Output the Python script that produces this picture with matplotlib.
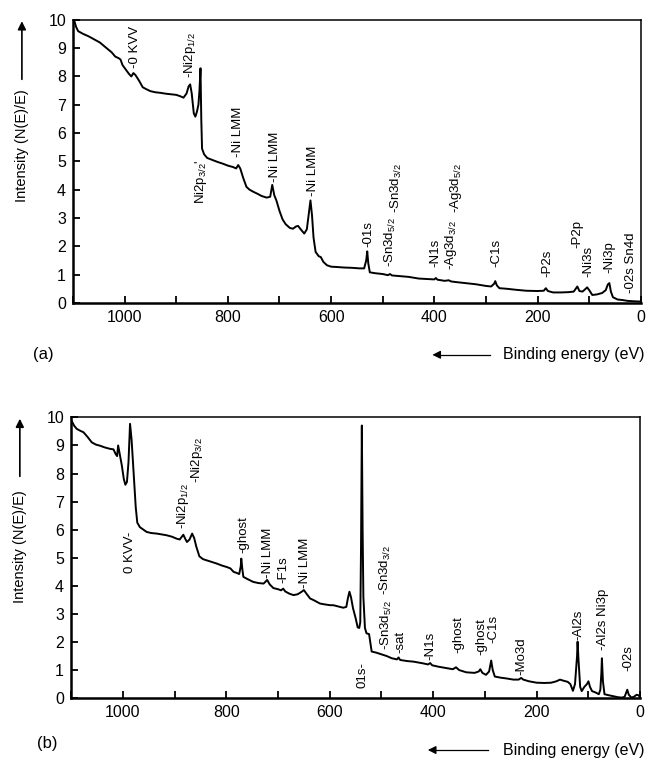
import matplotlib
matplotlib.use("Agg")
import matplotlib.pyplot as plt
from matplotlib.ticker import MultipleLocator

plt.rcParams["font.family"] = ["Liberation Sans", "DejaVu Sans"]
plt.rcParams["mathtext.default"] = "regular"

# --- (a) survey spectrum: binding energy (eV) / intensity
energy_a = [1098, 1094, 1090, 1080, 1070, 1060, 1048, 1035, 1025, 1018, 1012, 1008,
            1004, 998, 992, 987, 983, 979, 972, 965, 958, 950, 940, 930, 920, 910,
            900, 892, 886, 880, 876, 873, 870, 866, 863, 860, 857, 855, 853, 851.5,
            850, 846, 840, 830, 820, 810, 800, 790, 784, 780, 776, 770, 764, 758,
            750, 742, 735, 725, 718, 714, 710, 706, 700, 694, 688, 680, 674, 668,
            664, 658, 652, 647, 643, 640, 637, 634, 630, 628, 624, 620, 615, 608,
            600, 590, 575, 560, 545, 536, 532, 530, 528, 525, 515, 500, 490, 486,
            482, 470, 450, 430, 410, 400, 397, 394, 380, 372, 368, 360, 340, 320,
            300, 290, 284, 282, 279, 274, 260, 240, 222, 200, 188, 184, 180, 170,
            155, 140, 130, 126, 123, 119, 113, 108, 104, 100, 94, 85, 75, 68, 64,
            61, 58, 54, 45, 35, 25, 15, 5, 1]
intens_a = [10.0, 9.75, 9.6, 9.5, 9.42, 9.32, 9.2, 9.0, 8.85, 8.7, 8.65, 8.6,
            8.4, 8.25, 8.1, 8.0, 8.12, 8.05, 7.85, 7.62, 7.55, 7.48, 7.44, 7.42,
            7.39, 7.37, 7.35, 7.3, 7.25, 7.4, 7.65, 7.72, 7.4, 6.7, 6.58, 6.75,
            7.0, 7.5, 8.29, 6.5, 5.45, 5.25, 5.12, 5.05, 4.98, 4.92, 4.85, 4.8,
            4.75, 4.87, 4.75, 4.4, 4.1, 4.0, 3.92, 3.85, 3.78, 3.72, 3.75, 4.17,
            3.8, 3.62, 3.25, 2.95, 2.78, 2.65, 2.62, 2.7, 2.72, 2.58, 2.45, 2.6,
            3.2, 3.62, 3.1, 2.3, 1.8, 1.75, 1.65, 1.62, 1.45, 1.33, 1.28, 1.27,
            1.25, 1.24, 1.22, 1.22, 1.5, 1.82, 1.4, 1.08, 1.05, 1.02, 0.98, 1.02,
            0.97, 0.95, 0.92, 0.86, 0.84, 0.83, 0.88, 0.82, 0.78, 0.8, 0.76, 0.74,
            0.7, 0.66, 0.6, 0.58, 0.68, 0.77, 0.62, 0.52, 0.5, 0.46, 0.43, 0.42,
            0.43, 0.52, 0.42, 0.37, 0.37, 0.38, 0.4, 0.5, 0.58, 0.42, 0.4, 0.48,
            0.55, 0.45, 0.28, 0.3, 0.35, 0.45, 0.65, 0.7, 0.4, 0.2, 0.12, 0.1,
            0.07, 0.06, 0.05, 0.05]

# peak labels for (a): (energy, y anchor, text, anchor side)
labels_a = [
    (979, 8.3, "-0 KVV", "bottom"),
    (873, 7.95, "-Ni2p$_{1/2}$", "bottom"),
    (852, 5.05, "Ni2p$_{3/2}$'", "top"),
    (781, 5.16, "-Ni LMM", "bottom"),
    (708, 4.28, "-Ni LMM", "bottom"),
    (636, 3.76, "-Ni LMM", "bottom"),
    (528, 1.98, "-01s", "bottom"),
    (485, 1.28, "-Sn3d$_{5/2}$", "bottom"),
    (473, 3.17, "-Sn3d$_{3/2}$", "bottom"),
    (398, 1.28, "-N1s", "bottom"),
    (368, 1.17, "-Ag3d$_{3/2}$", "bottom"),
    (359, 3.17, "-Ag3d$_{5/2}$", "bottom"),
    (280, 1.28, "-C1s", "bottom"),
    (182, 0.93, "-P2s", "bottom"),
    (123, 1.94, "-P2p", "bottom"),
    (102, 0.93, "-Ni3s", "bottom"),
    (61, 1.05, "-Ni3p", "bottom"),
    (19, 0.35, "-02s Sn4d", "bottom"),
]

# --- (b) survey spectrum
energy_b = [1099, 1094, 1089, 1082, 1076, 1068, 1060, 1052, 1044, 1035, 1025, 1018,
            1014, 1011, 1009, 1006, 1002, 998, 995, 992, 989, 986, 983, 979, 975,
            972, 967, 960, 954, 945, 934, 925, 915, 905, 896, 890, 886, 883, 880,
            876, 871, 866, 862, 858, 852, 845, 838, 828, 818, 808, 799, 792, 786,
            780, 775, 772, 771, 769, 767, 760, 748, 738, 728, 724, 721, 716, 709,
            700, 694, 690, 686, 678, 670, 662, 655, 650, 645, 638, 630, 619, 610,
            599, 593, 582, 574, 568, 565, 562, 559, 555, 550, 546, 543, 541, 539.5,
            538, 536.5, 535, 532, 529, 524, 521, 519, 510, 500, 490, 480, 470, 467,
            464, 450, 438, 420, 410, 406, 402, 390, 375, 362, 356, 350, 336, 320,
            312, 309, 305, 298, 292, 288, 285, 281, 270, 258, 245, 235, 230, 226,
            215, 200, 185, 172, 162, 155, 148, 140, 135, 130, 126, 122, 121, 119,
            116, 113, 108, 103, 100, 97, 93, 86, 80, 77, 75, 74, 72, 69, 60, 52,
            42, 35, 30, 27, 25, 22, 17, 12, 7, 3, 1]
intens_b = [9.88, 9.7, 9.59, 9.52, 9.47, 9.3, 9.11, 9.03, 8.99, 8.93, 8.88, 8.86,
            8.7, 8.62, 9.0, 8.7, 8.3, 7.8, 7.6, 7.7, 8.4, 9.77, 9.2, 8.0, 6.8,
            6.25, 6.09, 6.0, 5.92, 5.88, 5.86, 5.83, 5.8, 5.75, 5.68, 5.65, 5.75,
            5.82, 5.7, 5.56, 5.65, 5.86, 5.7, 5.4, 5.05, 4.95, 4.91, 4.85, 4.79,
            4.72, 4.67, 4.62, 4.5, 4.46, 4.42, 4.7, 4.97, 4.6, 4.32, 4.25, 4.14,
            4.1, 4.08, 4.15, 4.21, 4.05, 3.92, 3.88, 3.84, 3.9, 3.8, 3.72, 3.67,
            3.7, 3.78, 3.85, 3.72, 3.55, 3.48, 3.37, 3.34, 3.31, 3.31, 3.26, 3.22,
            3.25, 3.55, 3.79, 3.6, 3.2, 2.85, 2.52, 2.5, 2.7, 5.5, 9.71, 6.0, 3.6,
            2.5, 2.31, 2.28, 1.9, 1.66, 1.62, 1.56, 1.5, 1.42, 1.38, 1.45, 1.36,
            1.32, 1.3, 1.24, 1.2, 1.25, 1.17, 1.12, 1.07, 1.03, 1.1, 1.0, 0.92,
            0.9, 0.95, 1.03, 0.9, 0.83, 0.95, 1.34, 1.0, 0.77, 0.73, 0.7, 0.66,
            0.66, 0.72, 0.66, 0.6, 0.55, 0.54, 0.55, 0.6, 0.66, 0.62, 0.58, 0.5,
            0.26, 0.5, 1.5, 2.01, 1.3, 0.4, 0.25, 0.4, 0.5, 0.6, 0.4, 0.25, 0.2,
            0.14, 0.3, 0.9, 1.42, 0.6, 0.14, 0.1, 0.07, 0.03, 0.02, 0.05, 0.2,
            0.3, 0.12, 0.02, 0.05, 0.12, 0.1, 0.05]

labels_b = [
    (986, 5.92, "0 KVV-", "top"),
    (883, 6.04, "-Ni2p$_{1/2}$", "bottom"),
    (857, 7.65, "-Ni2p$_{3/2}$", "bottom"),
    (767, 5.16, "-ghost", "bottom"),
    (719, 4.27, "-Ni LMM", "bottom"),
    (690, 4.1, "-F1s", "bottom"),
    (648, 3.92, "-Ni LMM", "bottom"),
    (536, 1.3, "01s-", "top"),
    (493, 3.67, "-Sn3d$_{3/2}$", "bottom"),
    (490, 1.72, "-Sn3d$_{5/2}$", "bottom"),
    (464, 1.6, "-sat", "bottom"),
    (406, 1.36, "-N1s", "bottom"),
    (352, 1.6, "-ghost", "bottom"),
    (307, 1.54, "-ghost", "bottom"),
    (284, 1.96, "-C1s", "bottom"),
    (229, 0.83, "-Mo3d", "bottom"),
    (120, 2.07, "-Al2s", "bottom"),
    (72, 1.72, "-Al2s Ni3p", "bottom"),
    (23, 0.95, "-02s", "bottom"),
]

y_ticks = list(range(0, 11))
x_major = [1000, 800, 600, 400, 200, 0]


def draw_panel(ax, energy, intens, labels, ylab_center):
    ax.plot(energy, intens, color="black", lw=1.4)
    ax.set_xlim(1100, 0)
    ax.set_ylim(0, 10)
    ax.set_xticks(x_major)
    ax.xaxis.set_minor_locator(MultipleLocator(100))
    ax.set_yticks(y_ticks)
    ax.tick_params(which="both", direction="in", length=5, width=1.3,
                   labelsize=11.5, pad=5)
    for side in ("bottom", "left"):
        ax.spines[side].set_linewidth(1.8)
    for side in ("top", "right"):
        ax.spines[side].set_linewidth(1.1)
    for e, y, txt, side in labels:
        ax.text(e, y, txt, rotation=90, ha="center", va=side, fontsize=9.5)
    # vertical axis title with the upward arrow above it
    ax.text(-0.09, ylab_center, "Intensity (N(E)/E)", rotation=90,
            transform=ax.transAxes, ha="center", va="center", fontsize=10.5)
    ax.annotate("", xy=(-0.09, 1.005), xytext=(-0.09, 0.78),
                xycoords="axes fraction",
                arrowprops=dict(arrowstyle="-|>", color="black", lw=1.2,
                                mutation_scale=12))


fig = plt.figure(figsize=(6.46, 7.63), dpi=100)
ax1 = fig.add_axes([0.113, 0.603, 0.879, 0.371])
ax2 = fig.add_axes([0.110, 0.085, 0.881, 0.368])

draw_panel(ax1, energy_a, intens_a, labels_a, 0.557)
draw_panel(ax2, energy_b, intens_b, labels_b, 0.54)

# panel tags and the "binding energy" arrows under each panel
for tag, tx, ty in (("(a)", 0.051, 0.535), ("(b)", 0.057, 0.026)):
    fig.text(tx, ty, tag, fontsize=12, va="center")
for ty, x0, x1 in ((0.535, 0.759, 0.665), (0.017, 0.756, 0.658)):
    fig.text(0.998, ty, "Binding energy (eV)", fontsize=11.5, ha="right", va="center")
    fig.add_artist(plt.Line2D([x0, x1 + 0.01], [ty, ty], color="black", lw=0.9,
                              transform=fig.transFigure))
    fig.patches.append(matplotlib.patches.FancyArrowPatch(
        (x1 + 0.02, ty), (x1, ty), transform=fig.transFigure,
        arrowstyle="-|>", mutation_scale=12, color="black", lw=0.9))

fig.savefig("out.png", dpi=100)
